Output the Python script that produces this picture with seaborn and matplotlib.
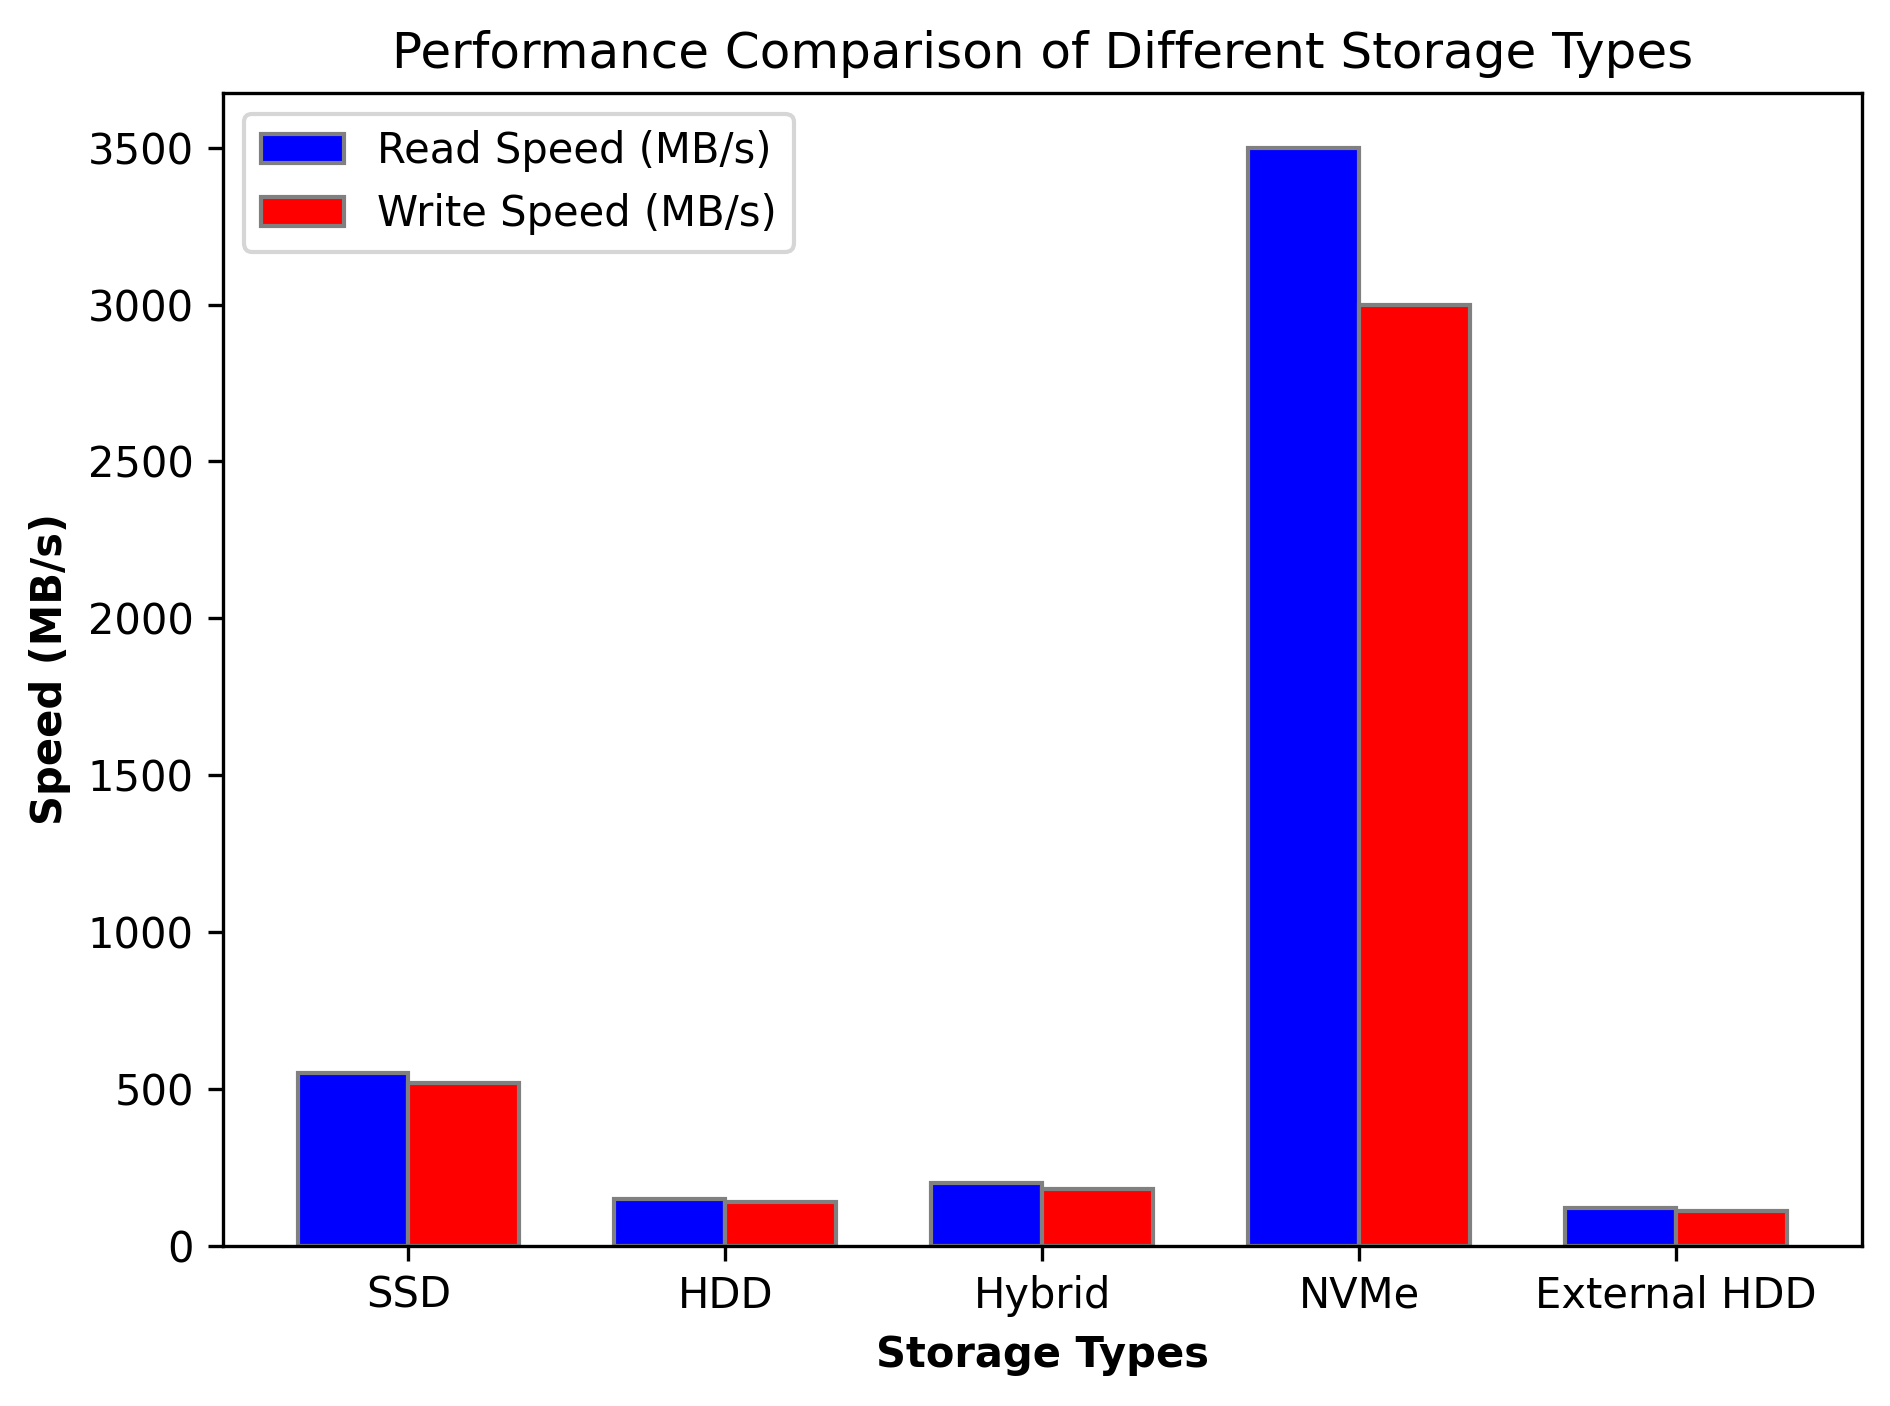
import matplotlib
matplotlib.use("Agg")
import matplotlib.pyplot as plt
import seaborn as sns
import pandas as pd

storage_types = ["SSD", "HDD", "Hybrid", "NVMe", "External HDD"]
read_speed = [550, 150, 200, 3500, 120]
write_speed = [520, 140, 180, 3000, 110]
series_names = ["Read Speed (MB/s)", "Write Speed (MB/s)"]

df = pd.DataFrame({
    "Storage Types": storage_types * 2,
    "Speed": read_speed + write_speed,
    "Metric": [series_names[0]] * len(storage_types) + [series_names[1]] * len(storage_types),
})

fig, ax = plt.subplots(figsize=(6.3, 4.6867), dpi=300)
sns.barplot(data=df, x="Storage Types", y="Speed", hue="Metric",
            palette=["blue", "red"], edgecolor="grey", linewidth=1,
            width=0.7, saturation=1, ax=ax)
n = len(storage_types)
ax.set_xlim(-0.585, n - 1 + 0.585)
ax.set_title("Performance Comparison of Different Storage Types")
ax.set_xlabel("Storage Types", fontweight="bold")
ax.set_ylabel("Speed (MB/s)", fontweight="bold")
handles, labels = ax.get_legend_handles_labels()
ax.legend(handles, labels, loc="upper left")
fig.subplots_adjust(left=0.118, right=0.985, top=0.934, bottom=0.114)
fig.savefig("out.png", dpi=300)
